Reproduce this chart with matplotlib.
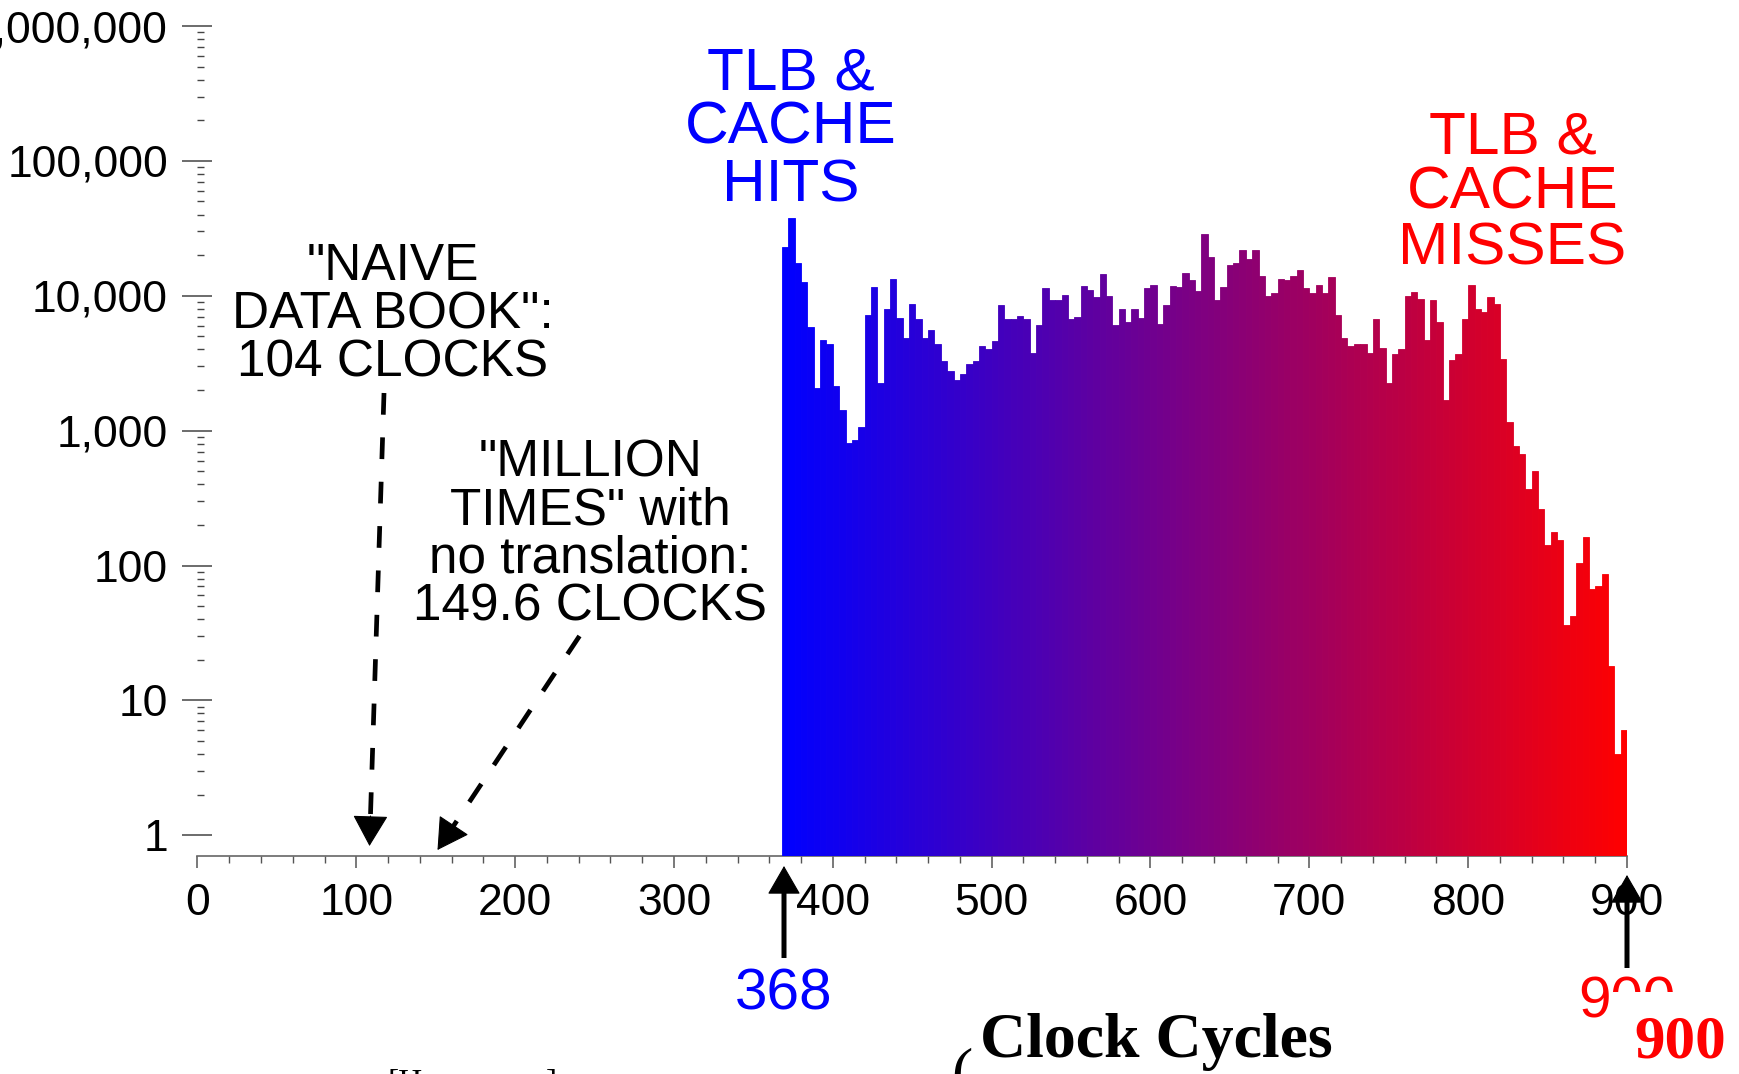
import numpy as np
import matplotlib
matplotlib.use("Agg")
import matplotlib.pyplot as plt
from matplotlib.ticker import FixedLocator, FixedFormatter, NullFormatter, MultipleLocator
from matplotlib.patches import FancyArrowPatch, Rectangle

# ---------------- data ----------------
BIN_START = 368
BIN_WIDTH = 4
counts = [
    22850, 37850, 17380, 12700, 5860, 2060, 4670, 4380, 2150, 1420,
    809, 857, 1064, 7190, 11540, 2240, 7930, 13240, 6840, 4880,
    8680, 6720, 4830, 5570, 4360, 3300, 2750, 2370, 2630, 3130,
    3300, 4240, 4030, 4620, 8490, 6680, 6720, 7110, 6680, 3760,
    6070, 11350, 9290, 9330, 10070, 6760, 6920, 11800, 11020, 9780,
    14410, 9950, 6030, 8010, 6380, 8010, 6870, 11350, 11940, 6170,
    8580, 11740, 11610, 14660, 13070, 10830, 28510, 19450, 9250, 11540,
    16890, 17380, 21690, 18620, 21830, 14000, 10000, 10420, 13220, 13080,
    14000, 15510, 11400, 10520, 12000, 10520, 13690, 7190, 4830, 4260,
    4380, 4380, 3740, 6720, 4120, 2240, 3700, 4030, 9950, 10710,
    9500, 4700, 9290, 6420, 1690, 3340, 3680, 6760, 12000, 7970,
    7620, 9730, 8630, 3380, 1160, 769, 671, 371, 500, 261,
    143, 177, 155, 36, 42, 105, 163, 67, 70, 86,
    18, 4, 6,
]
x_tick_values = [0, 100, 200, 300, 400, 500, 600, 700, 800, 900]
x_tick_labels = ["0", "100", "200", "300", "400", "500", "600", "700", "800", "900"]
y_tick_values = [1, 10, 100, 1000, 10000, 100000, 1000000]
y_tick_labels = ["1", "10", "100", "1,000", "10,000", "100,000", "1,000,000"]
hits_lines = ["TLB &", "CACHE", "HITS"]
misses_lines = ["TLB &", "CACHE", "MISSES"]
naive_lines = ['"NAIVE', 'DATA BOOK":', '104 CLOCKS']
million_lines = ['"MILLION', 'TIMES" with', 'no translation:', '149.6 CLOCKS']
first_label = "368"
last_label = "900"
axis_title = "Clock Cycles"

# ---------------- figure ----------------
plt.rcParams["font.family"] = ["Liberation Sans", "DejaVu Sans"]
W, H = 1740, 1074
fig = plt.figure(figsize=(W / 100, H / 100), dpi=100)
fig.patch.set_facecolor("white")


def fp(x, y):
    return (x / W, 1 - y / H)


ax = fig.add_axes([197.5 / W, 1 - 856 / H, (1627 - 197.5) / W, (856 - 26) / H])
ax.set_yscale("log")
ax.set_xlim(0, 900)
ax.set_ylim(10 ** (-20.7 / 134.9), 1e6)

n = len(counts)
lefts = BIN_START + BIN_WIDTH * np.arange(n)
frac = np.arange(n) / (n - 1)
colors = [(f, 0.0, 1.0 - f) for f in frac]
ax.bar(lefts, counts, width=BIN_WIDTH, align="edge", color=colors,
       edgecolor=colors, linewidth=0.6, zorder=3)

for s in ["left", "top", "right"]:
    ax.spines[s].set_visible(False)
ax.spines["bottom"].set_color("#666666")
ax.spines["bottom"].set_linewidth(1.2)
ax.spines["bottom"].set_zorder(2)

ax.xaxis.set_major_locator(FixedLocator(x_tick_values))
ax.xaxis.set_major_formatter(FixedFormatter(x_tick_labels))
ax.xaxis.set_minor_locator(MultipleLocator(20))
ax.yaxis.set_major_locator(FixedLocator(y_tick_values))
ax.yaxis.set_major_formatter(FixedFormatter(y_tick_labels))
minor_y = [m * 10 ** e for e in range(0, 6) for m in range(2, 10)]
ax.yaxis.set_minor_locator(FixedLocator(minor_y))
ax.yaxis.set_minor_formatter(NullFormatter())

ax.tick_params(axis="x", which="major", direction="out", length=8.6, width=1.1,
               color="#555555", pad=10.8, labelsize=32)
ax.tick_params(axis="x", which="minor", direction="out", length=5, width=1.0,
               color="#555555")
ax.tick_params(axis="y", which="major", direction="inout", length=20.9, width=1.1,
               color="#444444", pad=10.8, labelsize=32)
ax.tick_params(axis="y", which="minor", direction="in", length=5, width=1.0,
               color="#444444")

# ---------------- annotations ----------------
def lines_text(lines, cx, baselines, size, color):
    for s, b in zip(lines, baselines):
        fig.text(*fp(cx, b), s, ha="center", va="baseline", fontsize=size,
                 color=color)


lines_text(hits_lines, 791, [89, 143.5, 201], 43.5, "#0000ff")
lines_text(misses_lines, 1512.6, [153.1, 208.6, 264.1], 43.5, "#ff0000")
lines_text(naive_lines, 392.8, [280.5, 328.5, 376.5], 37, "black")
lines_text(million_lines, 590.4, [476.5, 524.2, 572.2, 620.8], 37, "black")


def arrow(tail, tip, lw, ls, hl_px, hw_px):
    tail = np.asarray(tail, float)
    tip = np.asarray(tip, float)
    d = tip - tail
    u = d / np.hypot(*d)
    base = tip - u * hl_px
    # shaft
    shaft = FancyArrowPatch(fp(*tail), fp(*(base + u * 2)), transform=fig.transFigure,
                            arrowstyle="-", lw=lw, linestyle=ls, color="black",
                            capstyle="butt", shrinkA=0, shrinkB=0, zorder=7)
    fig.add_artist(shaft)
    # solid head
    ms = 10 * 100 / 72.0  # mutation scale in px
    head = FancyArrowPatch(fp(*(base - u * 1)), fp(*tip), transform=fig.transFigure,
                           arrowstyle=f"-|>,head_length={(hl_px - 1) / ms:.3f},"
                                      f"head_width={(hw_px / 2 - 0.5) / ms:.3f}",
                           mutation_scale=10, lw=0.8, color="black",
                           shrinkA=0, shrinkB=0, zorder=7)
    fig.add_artist(head)


dash = (0, (4.6, 4.8))
arrow((384, 393), (369.5, 846), 3.4, dash, 29, 33)
arrow((579.5, 636), (437.5, 850), 3.4, dash, 29, 33)
arrow((784, 958), (784, 866), 3.6, "-", 27, 31)
arrow((1627, 968), (1627, 875), 3.6, "-", 27, 31)

fig.text(*fp(784, 1010), first_label, ha="center", va="baseline", fontsize=42,
         color="#0000ff")
fig.text(*fp(1627, 1018), last_label, ha="center", va="baseline", fontsize=42,
         color="#ff0000", zorder=3)
fig.add_artist(Rectangle(fp(1612, 1074), (W - 1612) / W, (1074 - 992) / H,
                         transform=fig.transFigure, facecolor="white",
                         edgecolor="none", zorder=5))
fig.text(*fp(1634, 1057), last_label, ha="left", va="baseline", fontsize=44,
         color="#ff0000", family="Liberation Serif", weight="bold", zorder=6)
fig.text(*fp(980, 1057), axis_title, ha="left", va="baseline", fontsize=46,
         color="black", family="Liberation Serif", weight="bold", zorder=6)
fig.text(*fp(951, 1091), "(", ha="left", va="baseline", fontsize=46,
         color="black", family="Liberation Serif", zorder=6)
fig.text(*fp(388, 1092), "[H", ha="left", va="baseline", fontsize=24,
         color="black", family="Liberation Serif", zorder=6)
fig.text(*fp(546, 1092), "]", ha="left", va="baseline", fontsize=24,
         color="black", family="Liberation Serif", zorder=6)

fig.savefig("out.png", dpi=100, facecolor="white")
